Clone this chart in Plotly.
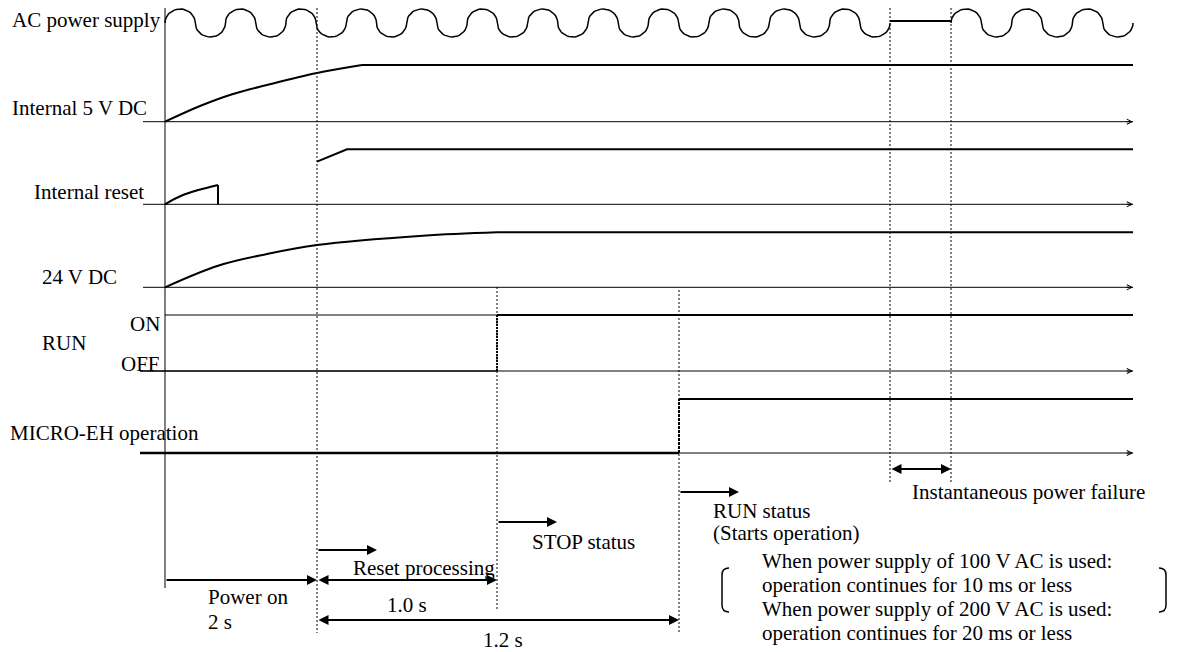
import numpy as np
import plotly.graph_objects as go

# ---- time marks along the horizontal axis ----
t_on = 165            # power switched on
t_reset = 317         # internal reset released, reset processing starts
t_stop = 497          # STOP status
t_run = 679           # RUN status, operation starts
t_fail = [890, 951]   # instantaneous power failure
t_axis = [143, 1133]  # extent of the row baselines

# ---- rows ----
row_labels = ["AC power supply", "Internal 5 V DC", "Internal reset", "24 V DC", "RUN", "MICRO-EH operation"]
row_base = [23, 121.7, 204.3, 287.3, 371, 453]

# AC supply: number of full cycles before / after the failure
ac_cycles = [12, 3]
ac_amp = 14

# Internal 5 V DC
dc5_t = [165, 200, 233, 267, 317, 362]
dc5_y = [121.7, 106, 94, 85, 73, 65]

# Internal reset
reset1_t = [165, 183, 218]
reset1_y = [204.3, 195, 185]
reset2_t = [317, 347]
reset2_y = [161.7, 149.3]

# 24 V DC
dc24_t = [165, 218, 267, 317, 423, 497]
dc24_y = [287.3, 265.7, 254, 245, 235.7, 232.3]

# RUN switch / MICRO-EH operation levels
run_on, run_off = 315, 371
op_hi, op_lo = 399, 453

FONT = "Times New Roman, Liberation Serif, serif"
BLACK = "#000000"

fig = go.Figure()


def line(x, y, width=2, dash="solid", color=BLACK, shape="linear"):
    fig.add_trace(go.Scatter(x=x, y=y, mode="lines", hoverinfo="skip", showlegend=False,
                             line=dict(color=color, width=width, dash=dash, shape=shape)))


def text(s, x, y, anchor="left"):
    fig.add_annotation(x=x, y=y, text=s, showarrow=False, xanchor=anchor, yanchor="middle",
                       font=dict(family=FONT, size=21, color=BLACK))


def arrow(x0, x1, y, both=False, width=2, head=2, size=1.0):
    fig.add_annotation(x=x1, y=y, ax=x0, ay=y, axref="x", ayref="y", text="", showarrow=True,
                       arrowhead=head, arrowsize=size, arrowwidth=width, arrowcolor=BLACK,
                       arrowside="end+start" if both else "end", startarrowhead=head,
                       startarrowsize=size, standoff=0, startstandoff=0)


# AC waveform: chain of half circles, flat during the failure
def ac_wave(x_start, x_stop, n_cycles, yc):
    half = (x_stop - x_start) / (2 * n_cycles)
    xs, ys = [], []
    th = np.linspace(np.pi, 0, 25)
    for k in range(2 * n_cycles):
        xc = x_start + (k + 0.5) * half
        sgn = -1 if k % 2 == 0 else 1
        xs += list(xc + half / 2 * np.cos(th))
        ys += list(yc + sgn * ac_amp * np.sin(th))
    return xs, ys


ac_y = row_base[0]
wx, wy = ac_wave(t_on, t_fail[0], ac_cycles[0], ac_y)
line(wx, wy, width=1.5)
wx, wy = ac_wave(t_fail[1], t_axis[1], ac_cycles[1], ac_y)
line(wx, wy, width=1.5)
line(t_fail, [ac_y - 2, ac_y - 2], width=2.2)

# baselines (thin) with small arrow at the end
for yb in row_base[1:]:
    line(t_axis, [yb, yb], width=1)
    arrow(t_axis[1] - 8, t_axis[1], yb, width=1, head=5, size=1.0)
line([t_on, t_axis[1]], [run_on, run_on], width=1)

# signals: smooth rise, then hold
line(dc5_t, dc5_y, shape="spline")
line([dc5_t[-1], t_axis[1]], [dc5_y[-1], dc5_y[-1]])
line(reset1_t, reset1_y, shape="spline")
line([reset1_t[-1], reset1_t[-1]], [reset1_y[-1], row_base[2]])
line(reset2_t + [t_axis[1]], reset2_y + [reset2_y[-1]])
line(dc24_t, dc24_y, shape="spline")
line([dc24_t[-1], t_axis[1]], [dc24_y[-1], dc24_y[-1]])
line([140, t_stop], [run_off, run_off], width=2.2, color="#333333")
line([t_stop, t_stop], [run_off, run_on], width=2, dash="2px,1px")
line([t_stop, t_axis[1]], [run_on, run_on], width=2.2)
line([140, t_run], [op_lo, op_lo], width=2.5)
line([t_run, t_run], [op_lo, op_hi], width=2, dash="3px,1px")
line([t_run, t_axis[1]], [op_hi, op_hi], width=2.2)

# time grid: solid at power on, dotted at the events
line([t_on, t_on], [8, 588], width=1)
for xv, y0, y1 in [(t_reset, 8, 633), (t_stop, 287, 610), (t_run, 290, 633),
                   (t_fail[0], 8, 484), (t_fail[1], 8, 484)]:
    line([xv, xv], [y0, y1], width=1, dash="2px,2px")

# timing arrows
arrow(t_on, t_reset, 580)
arrow(t_reset, t_stop, 580, both=True)
arrow(t_reset, t_run, 620, both=True)
arrow(t_reset, t_reset + 60, 550)
arrow(t_stop, t_stop + 60, 522)
arrow(t_run, t_run + 60, 492)
arrow(t_fail[0], t_fail[1], 469, both=True)

# row labels
text(row_labels[0], 10, 20)
text(row_labels[1], 10, 108)
text(row_labels[2], 32, 192)
text(row_labels[3], 40, 277)
text("ON", 162, 324, anchor="right")
text(row_labels[4], 40, 343)
text("OFF", 162, 364, anchor="right")
text(row_labels[5], 8, 433)

# annotations
text("Instantaneous power failure", 910, 492)
text("RUN status", 711, 511)
text("(Starts operation)", 711, 533)
text("STOP status", 530, 542)
text("Reset processing", 351, 568)
text("Power on", 206, 597)
text("2 s", 206, 622)
text("1.0 s", 385, 605)
text("1.2 s", 481, 640)

notes = ["When power supply of 100 V AC is used:",
         "operation continues for 10 ms or less",
         "When power supply of 200 V AC is used:",
         "operation continues for 20 ms or less"]
note_y = [561, 585, 609, 633]
for s, yy in zip(notes, note_y):
    text(s, 760, yy)

# brackets around the note
for xb, d in [(722, 1), (1166, -1)]:
    fig.add_shape(type="path", xref="x", yref="y",
                  path=f"M {xb + 7 * d},568 Q {xb},568 {xb},575 L {xb},605 Q {xb},612 {xb + 7 * d},612",
                  line=dict(color=BLACK, width=1.5))

fig.update_layout(
    width=1177, height=652,
    margin=dict(l=0, r=0, t=0, b=0),
    paper_bgcolor="white", plot_bgcolor="white",
    xaxis=dict(range=[0, 1177], visible=False, fixedrange=True),
    yaxis=dict(range=[652, 0], visible=False, fixedrange=True),
    showlegend=False,
)

fig.write_html("out.html", config={"displayModeBar": False},
               post_script="document.body.style.margin='0';")
